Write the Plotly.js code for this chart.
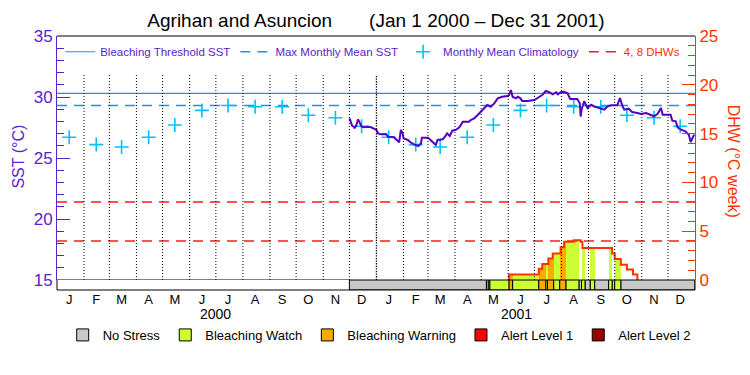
<!DOCTYPE html>
<html>
<head>
<meta charset="utf-8">
<script src="https://cdn.plot.ly/plotly-3.0.1.min.js"></script>
<style>html,body{margin:0;padding:0;background:#fff;}#chart{width:750px;height:375px;}</style>
</head>
<body>
<div id="chart"></div>
<script>
// ---------------- DATA ----------------
const monthLetters = ['J','F','M','A','M','J','J','A','S','O','N','D'];
const years = ['2000','2001'];
const climatology = [26.7, 26.1, 25.9, 26.7, 27.7, 28.9, 29.3, 29.2, 29.2, 28.5, 28.3, 27.6];
const maxMonthlyMean = 29.3;
const bleachingThreshold = 30.3;
const dhwLevels = [4, 8];

const sstDates = ['2000-12-01','2000-12-02','2000-12-04','2000-12-06','2000-12-07','2000-12-09','2000-12-11','2000-12-13','2000-12-15','2000-12-18',
 '2000-12-22','2000-12-26','2000-12-29','2001-01-01','2001-01-03','2001-01-06','2001-01-12','2001-01-14','2001-01-21','2001-01-24',
 '2001-01-27','2001-01-29','2001-01-31','2001-02-01','2001-02-06','2001-02-09','2001-02-13','2001-02-18','2001-02-21','2001-02-22',
 '2001-03-01','2001-03-04','2001-03-08','2001-03-10','2001-03-12','2001-03-18','2001-03-22','2001-03-23','2001-03-26','2001-03-29',
 '2001-04-02','2001-04-06','2001-04-10','2001-04-17','2001-04-19','2001-04-23','2001-04-27','2001-05-01','2001-05-05','2001-05-08',
 '2001-05-12','2001-05-16','2001-05-20','2001-05-25','2001-05-31','2001-06-02','2001-06-04','2001-06-06','2001-06-10','2001-06-12',
 '2001-06-15','2001-06-17','2001-06-23','2001-07-01','2001-07-05','2001-07-10','2001-07-14','2001-07-18','2001-07-22','2001-07-26',
 '2001-07-28','2001-07-31','2001-08-04','2001-08-08','2001-08-11','2001-08-19','2001-08-22','2001-08-23','2001-08-24','2001-08-27',
 '2001-08-29','2001-08-31','2001-09-02','2001-09-04','2001-09-07','2001-09-13','2001-09-19','2001-09-23','2001-09-27','2001-10-04',
 '2001-10-07','2001-10-10','2001-10-12','2001-10-17','2001-10-21','2001-10-27','2001-10-31','2001-11-06','2001-11-11','2001-11-15',
 '2001-11-19','2001-11-23','2001-11-25','2001-12-04','2001-12-06','2001-12-10','2001-12-12','2001-12-16','2001-12-21','2001-12-25',
 '2001-12-27','2001-12-29','2001-12-31'];
const sstValues = [28.25,28.11,27.65,27.57,27.43,27.70,28.17,27.84,27.57,27.52,
 27.57,27.52,27.43,27.30,27.02,26.94,26.97,26.75,26.70,26.48,
 26.29,27.30,27.02,26.61,26.48,26.29,26.12,25.98,26.20,26.66,
 26.66,26.48,26.20,26.07,26.48,26.53,26.89,27.02,26.80,27.24,
 27.30,27.52,27.98,27.98,28.11,28.25,28.52,28.80,29.07,29.34,
 29.20,29.48,29.89,30.02,30.08,30.16,30.57,30.02,29.89,30.02,
 29.89,29.67,29.67,29.75,29.94,30.16,30.49,30.39,30.22,30.39,
 30.22,30.39,30.43,30.30,29.84,29.84,29.48,28.40,28.96,29.65,
 29.37,29.10,29.24,29.37,29.24,29.10,28.96,29.24,29.32,29.32,
 29.92,29.24,28.96,29.04,28.77,28.69,28.61,28.69,28.55,28.42,
 28.61,29.10,28.55,28.55,28.06,28.01,27.52,27.32,27.19,26.91,
 26.31,26.58,26.91];

const dhwDates  = ['2001-06-02','2001-07-06','2001-07-10','2001-07-17','2001-07-22','2001-07-31','2001-08-04','2001-08-15','2001-08-23','2001-08-25','2001-09-28','2001-10-01','2001-10-08','2001-10-15','2001-10-22','2001-10-27'];
const dhwValues = [0.57, 1.14, 1.64, 2.21, 2.71, 3.36, 3.93, 4.07, 3.93, 3.29, 2.71, 2.14, 1.57, 1.07, 0.57, 0];

const stressStart = ['2000-12-01','2001-05-07','2001-05-09','2001-05-11','2001-06-02','2001-06-06','2001-07-06','2001-07-14','2001-07-16','2001-07-23','2001-07-30','2001-08-06','2001-08-21','2001-08-24','2001-08-28','2001-09-03','2001-09-08','2001-09-24','2001-09-28','2001-10-01','2001-10-08'];
const stressLevel = [0,1,0,1,2,1,2,1,2,1,2,1,0,1,0,1,0,1,0,1,0];
const stressEnd = '2002-01-01';
const stressNames = ['No Stress','Bleaching Watch','Bleaching Warning','Alert Level 1','Alert Level 2'];

// ---------------- STYLE ----------------
const stressColors = ['#c8c8c8','#ccff33','#ffaa00','#ff0000','#990000'];
const PURPLE = '#5a22cc', LINEPURPLE = '#5200c8', ORANGE = '#ff3300', BLUE = '#1e8fff', CYAN = '#00c0ff';
const FONT = 'Liberation Sans, Arial, sans-serif';
const DAY = 86400000;
const toMs = s => Date.parse(s + 'T00:00:00Z');
const toStr = ms => new Date(ms).toISOString().replace('T',' ').slice(0,19);
const X0 = '2000-01-01', X1 = '2002-01-01';

// ---------------- TRACES ----------------
const traces = [];
traces.push({x:[X0,X1], y:[bleachingThreshold,bleachingThreshold], mode:'lines', line:{color:BLUE,width:1.2},
  name:'Bleaching Threshold SST', legend:'legend', hoverinfo:'skip'});
traces.push({x:[X0,X1], y:[maxMonthlyMean,maxMonthlyMean], mode:'lines', line:{color:BLUE,width:1.5,dash:'10px,7px'},
  name:'Max Monthly Mean SST', legend:'legend'});
const climX = [], climY = [];
years.forEach(yr => climatology.forEach((v,i) => { climX.push(yr + '-' + String(i+1).padStart(2,'0') + '-15'); climY.push(v); }));
traces.push({x:climX, y:climY, mode:'markers', marker:{symbol:'cross-thin', size:10, line:{color:CYAN,width:1.6}, color:CYAN},
  name:'Monthly Mean Climatology', legend:'legend'});
traces.push({x:sstDates, y:sstValues, mode:'lines', line:{color:LINEPURPLE,width:2}, showlegend:false, name:'SST'});

// DHW reference lines
const dX = [], dY = [];
dhwLevels.forEach(l => { dX.push(X0, X1, null); dY.push(l, l, null); });
traces.push({x:dX, y:dY, yaxis:'y2', mode:'lines', line:{color:'#ff1a1a',width:1.5,dash:'10px,7px'},
  name:'<span style="color:'+ORANGE+'">4, 8 DHWs</span>', legend:'legend'});

// stress lookup
const segs = stressStart.map((s,i) => ({s:toMs(s), e: i+1<stressStart.length ? toMs(stressStart[i+1]) : toMs(stressEnd), lvl:stressLevel[i]}));
const levelAt = ms => { for (const g of segs) if (ms >= g.s && ms < g.e) return g.lvl; return -1; };
const dhwAt = ms => { let v = 0; for (let i=0;i<dhwDates.length;i++) if (toMs(dhwDates[i]) <= ms) v = dhwValues[i]; return v; };

// filled DHW area coloured by daily stress level (runs of equal level & DHW)
const runs = [];
for (let t = toMs(dhwDates[0]); t < toMs(dhwDates[dhwDates.length-1]); t += DAY) {
  const lvl = levelAt(t), v = dhwAt(t);
  if (lvl <= 0 || v <= 0) continue;
  const last = runs[runs.length-1];
  if (last && last.lvl === lvl && last.v === v && last.e === t) last.e = t + DAY;
  else runs.push({s:t, e:t+DAY, lvl:lvl, v:v});
}
for (let L = 1; L < stressNames.length; L++) {
  const rr = runs.filter(r => r.lvl === L);
  if (!rr.length) continue;
  traces.push({type:'bar', yaxis:'y2', x:rr.map(r=>toStr((r.s+r.e)/2)), y:rr.map(r=>r.v), width:rr.map(r=>r.e-r.s),
    marker:{color:stressColors[L], line:{width:0}}, showlegend:false, hoverinfo:'skip'});
}

// stress bar row (levels that never occur get an empty zero-height bar so they still appear in the key)
for (let L = 0; L < stressNames.length; L++) {
  const gg = segs.filter(g => g.lvl === L);
  const tr = {type:'bar', yaxis:'y3', base:0, marker:{color:stressColors[L], line:{color:'#000',width:1}},
    name:stressNames[L], legend:'legend2', hoverinfo:'skip'};
  if (gg.length) { tr.x = gg.map(g=>toStr((g.s+g.e)/2)); tr.y = gg.map(()=>1); tr.width = gg.map(g=>g.e-g.s); }
  else { tr.x = [X0]; tr.y = [0]; tr.width = [1]; }
  traces.push(tr);
}

// DHW outline
traces.push({x:[dhwDates[0]].concat(dhwDates), y:[0].concat(dhwValues), yaxis:'y2', mode:'lines',
  line:{color:ORANGE,width:2,shape:'hv'}, showlegend:false, hoverinfo:'skip'});

// monthly dotted separators
const mX = [], mY = [], yX = [], yY = [];
for (let yi = 0; yi < years.length; yi++) for (let m = 0; m < 12; m++) {
  if (yi === 0 && m === 0) continue;
  const d = years[yi] + '-' + String(m+1).padStart(2,'0') + '-01';
  if (m === 0) { yX.push(d,d,null); yY.push(0,21,null); } else { mX.push(d,d,null); mY.push(0,21,null); }
}
traces.push({x:mX, y:mY, yaxis:'y2', mode:'lines', line:{color:'#000',width:1,dash:'1px,2px'}, showlegend:false, hoverinfo:'skip'});
traces.push({x:yX, y:yY, yaxis:'y2', mode:'lines', line:{color:'#000',width:1.3,dash:'1.3px,1.3px'}, showlegend:false, hoverinfo:'skip'});

// ---------------- LAYOUT ----------------
const rowFrac = 10/254;
const tickVals = [], tickText = [];
years.forEach(yr => monthLetters.forEach((l,i) => { tickVals.push(yr + '-' + String(i+1).padStart(2,'0') + '-15'); tickText.push(l); }));

const layout = {
  width:750, height:375, margin:{l:57, r:55, t:36, b:85},
  paper_bgcolor:'#fff', plot_bgcolor:'#fff', font:{family:FONT, color:'#000'},
  barmode:'overlay', bargap:0,
  title:{text:'Agrihan and Asuncion\u00a0\u00a0\u00a0\u00a0\u00a0\u00a0\u00a0(Jan 1 2000 \u2013 Dec 31 2001)', font:{size:19,color:'#000',family:FONT},
    x:0.5, xref:'paper', xanchor:'center', y:0.947, yref:'container', yanchor:'middle'},
  xaxis:{type:'date', range:[X0,X1], anchor:'y3', showgrid:false, zeroline:false, showline:false,
    tickmode:'array', tickvals:tickVals, ticktext:tickText, ticks:'', tickfont:{size:13,color:'#000'}},
  yaxis:{domain:[rowFrac,1], range:[15,35], showgrid:false, zeroline:false, showline:true, linecolor:PURPLE, linewidth:1,
    ticks:'inside', ticklen:13, tickcolor:PURPLE, tickwidth:1, dtick:5, tick0:15, tickfont:{size:17,color:PURPLE},
    minor:{ticks:'inside', ticklen:7, dtick:1, tickcolor:PURPLE, tickwidth:1}},
  yaxis2:{overlaying:'y', side:'right', range:[0,25], showgrid:false, zeroline:false, showline:true, linecolor:ORANGE, linewidth:1,
    ticks:'inside', ticklen:13, tickcolor:ORANGE, tickwidth:1, dtick:5, tick0:0, tickfont:{size:17,color:ORANGE},
    minor:{ticks:'inside', ticklen:7, dtick:1, tickcolor:ORANGE, tickwidth:1}},
  yaxis3:{domain:[0,rowFrac], range:[0,1], visible:false, fixedrange:true},
  legend:{orientation:'h', x:0.005, xanchor:'left', y:0.995, yanchor:'top', bgcolor:'rgba(0,0,0,0)', font:{size:11.5,color:PURPLE,family:FONT},
    itemwidth:30, traceorder:'normal'},
  legend2:{orientation:'h', x:0.505, xanchor:'center', y:-0.177, yanchor:'middle', bgcolor:'rgba(0,0,0,0)', font:{size:13,color:'#000',family:FONT},
    itemwidth:30, traceorder:'normal'},
  shapes:[
    {type:'line', xref:'paper', yref:'paper', x0:0, x1:1, y0:1, y1:1, line:{color:'#000',width:1}},
    {type:'line', xref:'paper', yref:'paper', x0:0, x1:1, y0:0, y1:0, line:{color:'#000',width:1}},
    {type:'line', xref:'paper', yref:'paper', x0:0, x1:0, y0:0, y1:rowFrac, line:{color:'#000',width:1}},
    {type:'line', xref:'paper', yref:'paper', x0:1, x1:1, y0:0, y1:rowFrac, line:{color:'#000',width:1}},
    {type:'line', xref:'paper', yref:'y', x0:0, x1:1, y0:15, y1:15, line:{color:'#000',width:1}}
  ],
  annotations:[
    {text:'SST (\u00b0C)', xref:'paper', yref:'paper', x:-0.06, y:0.524, textangle:-90, showarrow:false, xanchor:'center', yanchor:'middle',
      font:{size:16,color:PURPLE}},
    {text:'DHW (\u00b0C week)', xref:'paper', yref:'paper', x:1.06, y:0.508, textangle:90, showarrow:false, xanchor:'center', yanchor:'middle',
      font:{size:16,color:ORANGE}},
    {text:years[0], xref:'paper', yref:'paper', x:0.249, y:-0.094, showarrow:false, xanchor:'center', yanchor:'middle', font:{size:14,color:'#000'}},
    {text:years[1], xref:'paper', yref:'paper', x:0.72, y:-0.094, showarrow:false, xanchor:'center', yanchor:'middle', font:{size:14,color:'#000'}}
  ]
};

Plotly.newPlot('chart', traces, layout, {displayModeBar:false, staticPlot:true});
</script>
</body>
</html>
